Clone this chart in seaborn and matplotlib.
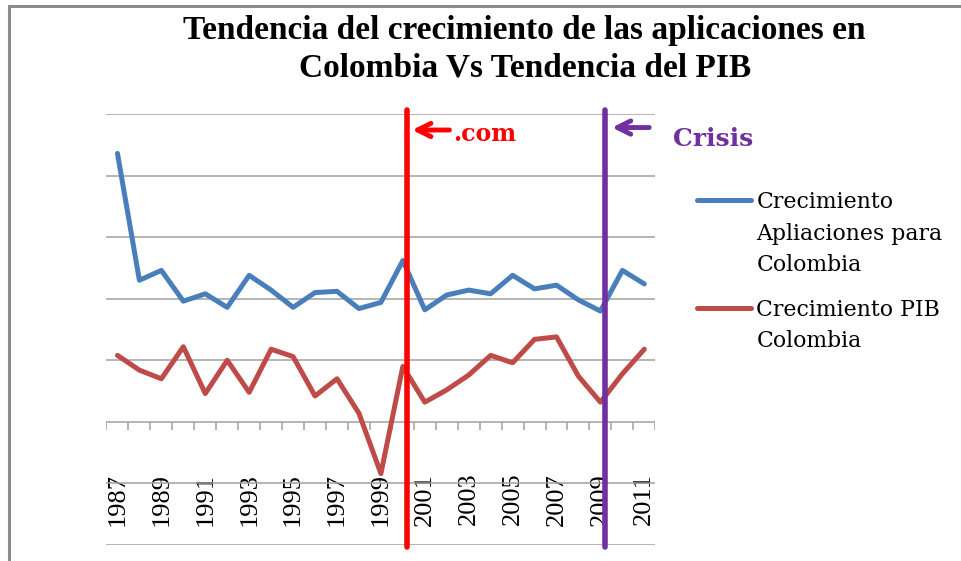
import numpy as np
import pandas as pd
import matplotlib.pyplot as plt
import seaborn as sns
from matplotlib.lines import Line2D

sns.set_style('white')
plt.rcParams['text.color'] = 'black'
plt.rcParams['xtick.color'] = 'black'

# datos (escala arbitraria, una linea de rejilla = 5)
years = list(range(1987, 2012))
apps = [21.8, 11.5, 12.3, 9.8, 10.4, 9.3, 11.9, 10.7, 9.3, 10.5, 10.6, 9.2, 9.7, 13.1,
        9.1, 10.3, 10.7, 10.4, 11.9, 10.8, 11.1, 9.9, 9.0, 12.3, 11.2]
pib = [5.4, 4.2, 3.5, 6.1, 2.3, 5.0, 2.4, 5.9, 5.3, 2.1, 3.5, 0.7, -4.2, 4.5,
       1.6, 2.6, 3.8, 5.4, 4.8, 6.7, 6.9, 3.7, 1.6, 3.9, 5.9]
series_names = ['Crecimiento\nApliaciones para\nColombia', 'Crecimiento PIB\nColombia']
series_colors = ['#4A7EBB', '#BE4B48']
tick_years = years[::2]

event_names = ['.com', 'Crisis']
event_years = [2000.2, 2009.2]
event_colors = ['#FF0000', '#7030A0']

title = 'Tendencia del crecimiento de las aplicaciones en\nColombia Vs Tendencia del PIB'

df = pd.DataFrame({
    'year': years * 2,
    'valor': apps + pib,
    'serie': [series_names[0]] * len(years) + [series_names[1]] * len(years),
})

fig = plt.figure(figsize=(9.61, 5.61), dpi=100)
ax = fig.add_axes([0.1108, 0.0285, 0.5711, 0.7683])

sns.lineplot(data=df, x='year', y='valor', hue='serie', palette=series_colors,
             linewidth=3.6, legend=False, ax=ax, zorder=3)
handles = list(ax.lines[:2])

ax.set_xlim(years[0] - 0.5, years[-1] + 0.5)
ax.set_ylim(-10, 25)
ax.set_yticks(np.arange(-10, 26, 5))
ax.set_yticklabels([])
ax.yaxis.grid(True, color='#a0a0a0', lw=1.1)
ax.xaxis.grid(False)
for s in ax.spines.values():
    s.set_visible(False)
ax.set_xlabel('')
ax.set_ylabel('')

# marcas del eje de categorias en y = 0
ax.vlines(np.arange(years[0] - 0.5, years[-1] + 1), -0.65, 0, color='#a0a0a0', lw=1.1)

ax.set_xticks(tick_years)
ax.set_xticklabels([str(y) for y in tick_years], rotation=90,
                   family='Liberation Serif', fontsize=19, color='black')
ax.tick_params(axis='x', length=0, pad=-52)
ax.tick_params(axis='y', length=0)

# lineas de eventos
for name, yr, col in zip(event_names, event_years, event_colors):
    ax.axvline(yr, ymin=-0.005, ymax=1.01, color=col, lw=4, clip_on=False, zorder=4)

ax.annotate('', xy=(event_years[0] + 0.1, 23.7), xytext=(event_years[0] + 2.05, 23.7),
            arrowprops=dict(arrowstyle='->', color=event_colors[0], lw=3.5, mutation_scale=24))
ax.text(event_years[0] + 2.1, 23.4, event_names[0], color=event_colors[0], fontsize=17,
        fontweight='bold', family='DejaVu Serif', va='center', ha='left')
ax.annotate('', xy=(event_years[1] + 0.2, 23.9), xytext=(event_years[1] + 2.15, 23.9),
            arrowprops=dict(arrowstyle='->', color=event_colors[1], lw=3.5, mutation_scale=24),
            annotation_clip=False)
ax.text(event_years[1] + 3.1, 23.0, event_names[1], color=event_colors[1], fontsize=18,
        fontweight='bold', family='DejaVu Serif', va='center', ha='left', clip_on=False)

leg = ax.legend(handles, series_names, loc='upper left', bbox_to_anchor=(0.7253, 0.659),
                bbox_transform=fig.transFigure, frameon=False, borderpad=0, borderaxespad=0,
                handlelength=2.45, handleheight=1.0, handletextpad=0.25, labelspacing=1.05,
                prop={'family': 'DejaVu Serif', 'size': 15.8})
for t in leg.get_texts():
    t.set_linespacing(1.55)
    t.set_color('black')
# poner la muestra de linea a la altura de la primera linea del texto
for col in leg._legend_handle_box.get_children():
    for row in col.get_children():
        row.align = 'top'

fig.text(0.546, 1 - 49 / 561, title, ha='center', va='center', fontsize=24,
         fontweight='bold', family='Liberation Serif', linespacing=1.25, color='black')

# marco exterior
fig.add_artist(Line2D([9 / 961, 9 / 961], [0, 1 - 6 / 561], transform=fig.transFigure,
                      color='#8c8c8c', lw=2.2))
fig.add_artist(Line2D([9 / 961, 1], [1 - 6 / 561, 1 - 6 / 561], transform=fig.transFigure,
                      color='#8c8c8c', lw=2.2))

fig.savefig('out.png', dpi=100)
